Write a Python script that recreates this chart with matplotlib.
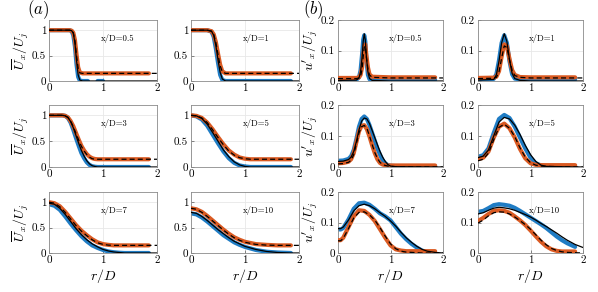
import numpy as np
import matplotlib
matplotlib.use("Agg")
import matplotlib.pyplot as plt

nan = np.nan

# ---- (a) mean axial velocity profiles ----
r_a05 = [0, 0.38, 0.42, 0.45, 0.48, 0.51, 0.54, 0.57, 0.62, 0.72, 0.8, 0.9, 1.0, 1.1, 1.85, 2.0]
blk_a05 = [1, 1, 0.99, 0.94, 0.75, 0.4, 0.12, 0.02, 0, 0, 0, 0, 0, 0, 0, 0]
blu_a05 = [1, 1, 0.98, 0.9, 0.68, 0.32, 0.08, 0.01, 0, 0, nan, 0, 0, nan, nan]
dsh_a05 = [1, 1, 0.99, 0.95, 0.8, 0.5, 0.25, 0.16, 0.15, 0.15, 0.15, 0.15, 0.15, 0.15, 0.15, 0.15]
org_a05 = [1, 1, 0.99, 0.95, 0.81, 0.52, 0.27, 0.17, 0.15, 0.15, 0.15, 0.15, 0.15, 0.15, 0.15]

r_a1 = [0, 0.3, 0.38, 0.42, 0.46, 0.5, 0.54, 0.58, 0.64, 1.0, 1.85, 2.0]
blk_a1 = [1, 1, 0.98, 0.9, 0.7, 0.42, 0.17, 0.04, 0, 0, 0, 0]
blu_a1 = [1, 1, 0.97, 0.87, 0.64, 0.36, 0.12, 0.02, 0, 0, 0]
dsh_a1 = [1, 1, 0.98, 0.92, 0.76, 0.52, 0.3, 0.18, 0.15, 0.15, 0.15, 0.15]
org_a1 = [1, 1, 0.98, 0.92, 0.77, 0.54, 0.32, 0.19, 0.15, 0.15, 0.15]

r_a3 = [0, 0.25, 0.3, 0.35, 0.4, 0.45, 0.5, 0.55, 0.6, 0.65, 0.7, 0.75, 0.8, 0.85, 0.9, 1.0, 1.85, 2.0]
blk_a3 = [1, 1, 0.99, 0.96, 0.88, 0.76, 0.61, 0.46, 0.32, 0.21, 0.12, 0.06, 0.025, 0.01, 0, 0, 0, 0]
blu_a3 = [1, 1, 0.99, 0.95, 0.86, 0.72, 0.56, 0.41, 0.27, 0.17, 0.09, 0.04, 0.015, 0.005, 0, 0, 0]
dsh_a3 = [1, 1, 0.99, 0.96, 0.89, 0.78, 0.65, 0.52, 0.4, 0.31, 0.24, 0.19, 0.16, 0.15, 0.15, 0.15, 0.15, 0.15]
org_a3 = [1, 1, 0.99, 0.96, 0.89, 0.79, 0.66, 0.53, 0.41, 0.32, 0.25, 0.2, 0.17, 0.155, 0.15, 0.15, 0.15]

r_a5 = [0, 0.1, 0.2, 0.3, 0.4, 0.5, 0.6, 0.7, 0.8, 0.9, 1.0, 1.1, 1.85, 2.0]
blk_a5 = [1, 0.99, 0.94, 0.83, 0.67, 0.5, 0.33, 0.2, 0.1, 0.04, 0.01, 0, 0, 0]
blu_a5 = [1, 0.98, 0.92, 0.8, 0.63, 0.46, 0.3, 0.17, 0.08, 0.03, 0.01, 0, 0]
dsh_a5 = [1, 0.99, 0.95, 0.86, 0.72, 0.57, 0.43, 0.31, 0.23, 0.18, 0.16, 0.15, 0.15, 0.15]
org_a5 = [1, 0.99, 0.95, 0.86, 0.73, 0.58, 0.44, 0.32, 0.24, 0.185, 0.16, 0.15, 0.15]

r_a7 = [0, 0.1, 0.2, 0.3, 0.4, 0.5, 0.6, 0.7, 0.8, 0.9, 1.0, 1.1, 1.2, 1.3, 1.4, 1.85, 2.0]
blk_a7 = [0.98, 0.96, 0.88, 0.76, 0.62, 0.48, 0.36, 0.26, 0.18, 0.12, 0.07, 0.04, 0.02, 0.01, 0, 0, 0]
blu_a7 = [0.96, 0.93, 0.85, 0.72, 0.58, 0.45, 0.33, 0.23, 0.15, 0.1, 0.06, 0.03, 0.015, 0.005, 0, 0]
dsh_a7 = [1.0, 0.98, 0.91, 0.8, 0.67, 0.54, 0.43, 0.34, 0.26, 0.2, 0.17, 0.155, 0.15, 0.15, 0.15, 0.15, 0.15]
org_a7 = [1.0, 0.98, 0.92, 0.81, 0.68, 0.55, 0.44, 0.35, 0.27, 0.21, 0.175, 0.16, 0.15, 0.15, 0.15, 0.15]

r_a10 = [0, 0.1, 0.2, 0.3, 0.4, 0.5, 0.6, 0.7, 0.8, 0.9, 1.0, 1.2, 1.4, 1.6, 1.85, 2.0]
blk_a10 = [0.8, 0.78, 0.72, 0.64, 0.55, 0.46, 0.38, 0.3, 0.23, 0.18, 0.13, 0.07, 0.03, 0.01, 0, 0]
blu_a10 = [0.78, 0.76, 0.7, 0.62, 0.53, 0.44, 0.35, 0.28, 0.21, 0.16, 0.12, 0.06, 0.025, 0.01, 0]
dsh_a10 = [0.88, 0.86, 0.8, 0.72, 0.63, 0.54, 0.45, 0.37, 0.3, 0.25, 0.21, 0.17, 0.155, 0.15, 0.15, 0.15]
org_a10 = [0.88, 0.86, 0.81, 0.73, 0.64, 0.55, 0.46, 0.38, 0.31, 0.26, 0.22, 0.175, 0.16, 0.15, 0.15]

# ---- (b) rms axial velocity profiles ----
r_b05 = [0, 0.35, 0.4, 0.43, 0.46, 0.48, 0.5, 0.52, 0.54, 0.57, 0.6, 0.65, 1.0, 1.85, 2.0]
blk_b05 = [0.002, 0.003, 0.01, 0.03, 0.08, 0.13, 0.155, 0.135, 0.08, 0.03, 0.008, 0.002, 0, 0, 0]
blu_b05 = [0.004, 0.004, 0.012, 0.035, 0.09, 0.135, 0.15, 0.13, 0.07, 0.02, 0.006, 0.004, 0.004, 0.004]
dsh_b05 = [0.008, 0.008, 0.01, 0.015, 0.04, 0.08, 0.11, 0.115, 0.08, 0.04, 0.02, 0.012, 0.01, 0.01, 0.01]
org_b05 = [0.01, 0.01, 0.012, 0.02, 0.045, 0.085, 0.115, 0.12, 0.085, 0.045, 0.022, 0.014, 0.012, 0.012]

r_b1 = [0, 0.3, 0.35, 0.4, 0.45, 0.5, 0.55, 0.6, 0.65, 0.7, 0.8, 1.0, 1.85, 2.0]
blk_b1 = [0.003, 0.005, 0.02, 0.065, 0.125, 0.155, 0.13, 0.07, 0.025, 0.008, 0.002, 0, 0, 0]
blu_b1 = [0.005, 0.007, 0.022, 0.068, 0.125, 0.15, 0.125, 0.065, 0.022, 0.008, 0.005, 0.005, 0.005]
dsh_b1 = [0.008, 0.009, 0.012, 0.03, 0.075, 0.115, 0.11, 0.07, 0.035, 0.018, 0.012, 0.01, 0.01, 0.01]
org_b1 = [0.01, 0.011, 0.014, 0.032, 0.08, 0.12, 0.115, 0.072, 0.036, 0.02, 0.013, 0.012, 0.012]

r_b3 = [0, 0.1, 0.2, 0.25, 0.3, 0.35, 0.4, 0.45, 0.5, 0.55, 0.6, 0.65, 0.7, 0.75, 0.8, 0.85, 0.9, 0.95, 1.0, 1.1, 1.85, 2.0]
blk_b3 = [0.018, 0.019, 0.024, 0.032, 0.05, 0.082, 0.12, 0.148, 0.158, 0.155, 0.14, 0.118, 0.095, 0.072, 0.05, 0.032, 0.018, 0.008, 0.003, 0.001, 0, 0]
blu_b3 = [0.02, 0.021, 0.026, 0.035, 0.055, 0.09, 0.13, 0.155, 0.163, 0.155, 0.135, 0.11, 0.085, 0.06, 0.04, 0.022, 0.012, 0.006, 0.004, 0.003, 0.003]
dsh_b3 = [0.01, 0.011, 0.015, 0.022, 0.04, 0.075, 0.11, 0.13, 0.134, 0.125, 0.1, 0.073, 0.047, 0.028, 0.015, 0.008, 0.005, 0.003, 0.002, 0.001, 0, 0]
org_b3 = [0.012, 0.013, 0.017, 0.025, 0.045, 0.08, 0.115, 0.133, 0.135, 0.122, 0.098, 0.07, 0.045, 0.025, 0.013, 0.008, 0.006, 0.005, 0.005, 0.005, 0.005]

r_b5 = [0, 0.1, 0.2, 0.3, 0.4, 0.5, 0.6, 0.7, 0.8, 0.9, 1.0, 1.1, 1.2, 1.3, 1.85, 2.0]
blk_b5 = [0.03, 0.035, 0.055, 0.1, 0.145, 0.16, 0.155, 0.135, 0.105, 0.07, 0.04, 0.018, 0.006, 0.002, 0, 0]
blu_b5 = [0.033, 0.038, 0.06, 0.11, 0.155, 0.168, 0.158, 0.13, 0.095, 0.06, 0.03, 0.012, 0.005, 0.003, 0.003]
dsh_b5 = [0.02, 0.025, 0.045, 0.088, 0.128, 0.138, 0.125, 0.098, 0.062, 0.032, 0.014, 0.006, 0.003, 0.002, 0, 0]
org_b5 = [0.025, 0.03, 0.05, 0.095, 0.13, 0.14, 0.125, 0.095, 0.058, 0.028, 0.012, 0.007, 0.006, 0.006, 0.006]

r_b7 = [0, 0.05, 0.1, 0.2, 0.3, 0.4, 0.5, 0.6, 0.7, 0.8, 0.9, 1.0, 1.1, 1.2, 1.3, 1.4, 1.5, 1.6, 1.7, 1.85, 2.0]
blk_b7 = [0.08, 0.08, 0.085, 0.108, 0.138, 0.155, 0.16, 0.155, 0.145, 0.132, 0.12, 0.105, 0.088, 0.068, 0.05, 0.035, 0.022, 0.012, 0.006, 0.002, 0]
blu_b7 = [0.078, 0.077, 0.082, 0.11, 0.145, 0.163, 0.165, 0.158, 0.145, 0.13, 0.12, 0.107, 0.085, 0.063, 0.045, 0.03, 0.018, 0.008, 0.003, 0.001]
dsh_b7 = [0.04, 0.04, 0.048, 0.08, 0.115, 0.133, 0.135, 0.125, 0.108, 0.083, 0.055, 0.03, 0.014, 0.006, 0.003, 0.002, 0.001, 0, 0, 0, 0]
org_b7 = [0.042, 0.042, 0.05, 0.085, 0.12, 0.14, 0.138, 0.125, 0.105, 0.078, 0.05, 0.025, 0.012, 0.008, 0.006, 0.006, 0.006, 0.006, 0.006, 0.006]

r_b10 = [0, 0.1, 0.2, 0.3, 0.4, 0.5, 0.6, 0.7, 0.8, 0.9, 1.0, 1.1, 1.2, 1.3, 1.4, 1.5, 1.6, 1.7, 1.85, 2.0]
blk_b10 = [0.128, 0.132, 0.14, 0.147, 0.15, 0.148, 0.145, 0.14, 0.133, 0.126, 0.118, 0.108, 0.097, 0.087, 0.076, 0.065, 0.053, 0.042, 0.028, 0.018]
blu_b10 = [0.135, 0.138, 0.147, 0.157, 0.16, 0.158, 0.155, 0.148, 0.138, 0.127, 0.116, 0.105, 0.094, 0.082, 0.068, 0.054, 0.042, 0.032, 0.02]
dsh_b10 = [0.098, 0.108, 0.122, 0.132, 0.135, 0.134, 0.128, 0.118, 0.106, 0.093, 0.078, 0.06, 0.042, 0.027, 0.015, 0.008, 0.004, 0.002, 0.001, 0]
org_b10 = [0.105, 0.115, 0.128, 0.138, 0.14, 0.138, 0.132, 0.12, 0.107, 0.092, 0.074, 0.055, 0.037, 0.022, 0.012, 0.007, 0.005, 0.005, 0.005]

labels_a = ["x/D=0.5", "x/D=1", "x/D=3", "x/D=5", "x/D=7", "x/D=10"]
labels_b = ["x/D=0.5", "x/D=1", "x/D=3", "x/D=5", "x/D=7", "x/D=10"]

panels_a = [(r_a05, blu_a05, org_a05, blk_a05, dsh_a05),
            (r_a1, blu_a1, org_a1, blk_a1, dsh_a1),
            (r_a3, blu_a3, org_a3, blk_a3, dsh_a3),
            (r_a5, blu_a5, org_a5, blk_a5, dsh_a5),
            (r_a7, blu_a7, org_a7, blk_a7, dsh_a7),
            (r_a10, blu_a10, org_a10, blk_a10, dsh_a10)]
panels_b = [(r_b05, blu_b05, org_b05, blk_b05, dsh_b05),
            (r_b1, blu_b1, org_b1, blk_b1, dsh_b1),
            (r_b3, blu_b3, org_b3, blk_b3, dsh_b3),
            (r_b5, blu_b5, org_b5, blk_b5, dsh_b5),
            (r_b7, blu_b7, org_b7, blk_b7, dsh_b7),
            (r_b10, blu_b10, org_b10, blk_b10, dsh_b10)]

plt.rcParams['font.family'] = 'serif'
plt.rcParams['font.serif'] = ['cmr10', 'DejaVu Serif']
plt.rcParams['mathtext.fontset'] = 'cm'
plt.rcParams['axes.formatter.use_mathtext'] = True

BLUE = '#1f7cc4'
ORANGE = '#da5a22'
W, H = 598, 292

fig = plt.figure(figsize=(W / 100, H / 100), dpi=100)

col_left = [49, 191, 338, 478]
col_w = [108, 108, 105, 105]
row_top = [20, 105, 192]
row_h = [61, 62, 61]


def draw_panel(ax, data, label, ylim, yticks, ytl):
    r, blu, org, blk, dsh = data
    r = np.asarray(r, dtype=float)
    ax.plot(r[:len(blu)], blu, color=BLUE, lw=3.0, solid_capstyle='round', zorder=2)
    ax.plot(r[:len(org)], org, color=ORANGE, lw=3.0, solid_capstyle='round', zorder=3)
    ax.plot(r, blk, color='k', lw=0.9, zorder=4)
    ax.plot(r, dsh, color='k', lw=0.9, ls=(0, (4, 2.5)), zorder=5)
    ax.set_xlim(0, 2)
    ax.set_ylim(*ylim)
    ax.set_xticks([0, 1, 2])
    ax.set_xticklabels(['0', '1', '2'])
    ax.set_yticks(yticks)
    ax.set_yticklabels(ytl)
    ax.grid(True, color='#e8e8e8', lw=0.6)
    ax.set_axisbelow(True)
    for s in ax.spines.values():
        s.set_color('#8a8a8a')
        s.set_linewidth(0.6)
    ax.tick_params(direction='in', length=2.5, width=0.5, color='#555555',
                   labelsize=8, pad=2, top=False, right=False)
    ax.text(0.48, 0.70, label, transform=ax.transAxes, fontsize=6.3,
            ha='left', va='center')


for i in range(6):
    row, col = divmod(i, 2)
    for grp in range(2):
        c = col + 2 * grp
        rect = [col_left[c] / W, 1 - (row_top[row] + row_h[row]) / H,
                col_w[c] / W, row_h[row] / H]
        ax = fig.add_axes(rect)
        if grp == 0:
            draw_panel(ax, panels_a[i], labels_a[i], (0, 1.2),
                       [0, 0.5, 1], ['0', '0.5', '1'])
            if col == 0:
                ax.set_ylabel(r'$\overline{U}_x/U_j$', fontsize=10, labelpad=1)
        else:
            draw_panel(ax, panels_b[i], labels_b[i], (0, 0.2),
                       [0, 0.1, 0.2], ['0', '0.1', '0.2'])
            if col == 0:
                ax.set_ylabel(r"$u'_x/U_j$", fontsize=10, labelpad=1)
        if row == 2:
            ax.set_xlabel(r'$r/D$', fontsize=10, labelpad=1)

fig.text(27 / W, 1 - 10 / H, r'$(a)$', fontsize=12, va='center', ha='left')
fig.text(303 / W, 1 - 10 / H, r'$(b)$', fontsize=12, va='center', ha='left')

fig.savefig('out.png', dpi=100)
